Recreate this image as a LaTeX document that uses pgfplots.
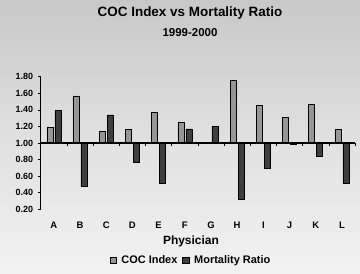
\documentclass[border=0pt]{standalone}
\usepackage{pgfplots}
\pgfplotsset{compat=1.18}
\usepackage{pgfplotstable}
\usepackage{fontspec}
\setmainfont{Liberation Sans}
\definecolor{bgtop}{RGB}{200,200,200}
\definecolor{bgmid}{RGB}{224,224,224}
\definecolor{bgbot}{RGB}{242,242,242}
\definecolor{cocfill}{RGB}{150,150,150}
\definecolor{mrfill}{RGB}{62,62,62}
\pgfplotstableread{
x cat coc mr
0 A 1.19 1.39
1 B 1.57 0.48
2 C 1.14 1.34
3 D 1.16 0.77
4 E 1.37 0.51
5 F 1.25 1.17
6 G 1.00 1.20
7 H 1.76 0.32
8 I 1.45 0.69
9 J 1.31 0.99
10 K 1.47 0.84
11 L 1.16 0.52
}\datatable
\begin{document}
\begin{tikzpicture}
\shade[top color=bgtop, bottom color=bgbot, middle color=bgmid] (-40.7bp,-64.7bp) rectangle (319.3bp,209.3bp);
\begin{axis}[
  scale only axis,
  width=314.3bp, height=132.6bp,
  at={(0,0)}, anchor=south west,
  ybar, bar width=6bp,
  ymin=-0.8, ymax=0.8,
  xmin=-0.5, xmax=11.5,
  y filter/.expression={y-1},
  ytick={-0.8,-0.6,-0.4,-0.2,0,0.2,0.4,0.6,0.8},
  yticklabels={0.20,0.40,0.60,0.80,1.00,1.20,1.40,1.60,1.80},
  xtick={0,...,11},
  xticklabels={A,B,C,D,E,F,G,H,I,J,K,L},
  axis y line*=left,
  axis x line*=bottom,
  x axis line style={draw=none},
  x tick style={draw=none},
  y axis line style={black, line width=0.8pt},
  y tick style={black, line width=0.6pt},
  tick align=outside,
  major tick length=3bp,
  yticklabel style={font=\fontsize{9}{10}\selectfont\bfseries, xshift=-1bp},
  xticklabel style={font=\fontsize{9.5}{10}\selectfont\bfseries, yshift=-6bp},
  xlabel={Physician},
  xlabel style={font=\fontsize{12}{14}\selectfont\bfseries, at={(axis description cs:0.478,-0.239)}, anchor=center},
  legend style={draw=none, fill=none, at={(axis description cs:0.478,-0.382)}, anchor=center,
    font=\fontsize{11}{12}\selectfont\bfseries, column sep=3bp, inner sep=0pt},
  legend columns=2,
  legend image code/.code={\draw[#1, draw=black, line width=0.3pt] (0bp,-3.2bp) rectangle (6.5bp,3.2bp);},
  clip=false,
]
\addplot[fill=cocfill, draw=black, line width=0.5pt] table[x=x, y=coc] {\datatable};
\addplot[fill=mrfill, draw=black, line width=0.5pt] table[x=x, y=mr] {\datatable};
\legend{COC Index, Mortality Ratio}
\draw[black, line width=1.2pt] (axis cs:-0.5,0) -- (axis cs:11.5,0);
\pgfplotsinvokeforeach{0.5,1.5,2.5,3.5,4.5,5.5,6.5,7.5,8.5,9.5,10.5,11.5}{\draw[black, line width=0.6pt] (axis cs:#1,0) -- ([yshift=-3.5bp]axis cs:#1,0);}
\node[font=\fontsize{13.5}{15}\selectfont\bfseries] at (axis description cs:0.475,1.48) {COC Index vs Mortality Ratio};
\node[font=\fontsize{11.5}{13}\selectfont\bfseries] at (axis description cs:0.475,1.33) {1999-2000};
\end{axis}
\end{tikzpicture}
\end{document}
